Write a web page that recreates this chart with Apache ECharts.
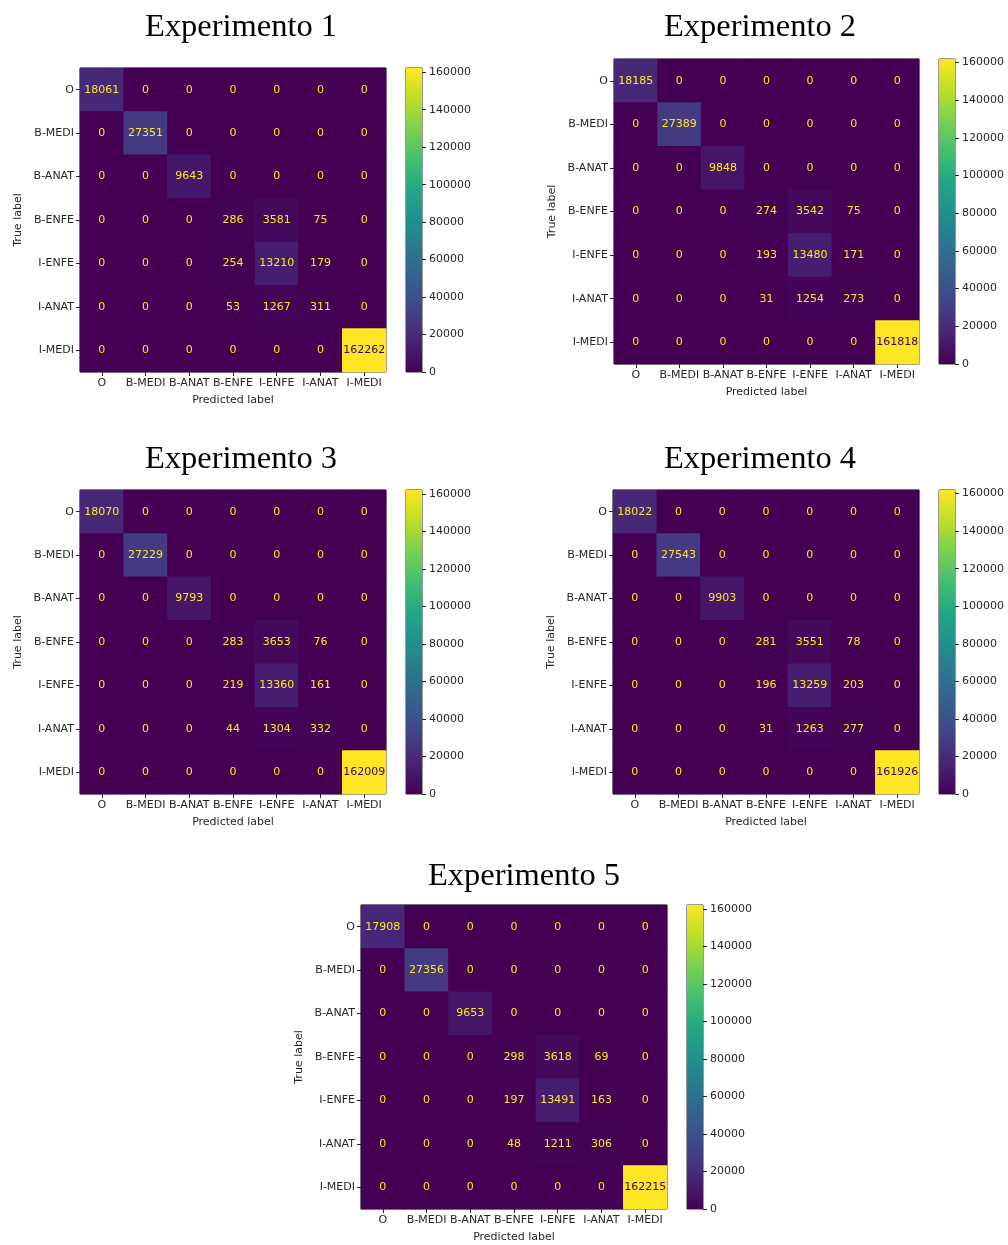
<!DOCTYPE html>
<html>
<head>
<meta charset="utf-8">
<script src="https://cdn.jsdelivr.net/npm/echarts@6/dist/echarts.min.js"></script>
<style>
html,body{margin:0;padding:0;background:#fff;}
#chart{width:1008px;height:1245px;}
</style>
</head>
<body>
<div id="chart"></div>
<script>
// ---- data ----
const labels = ['O', 'B-MEDI', 'B-ANAT', 'B-ENFE', 'I-ENFE', 'I-ANAT', 'I-MEDI'];
const titles = ['Experimento 1', 'Experimento 2', 'Experimento 3', 'Experimento 4', 'Experimento 5'];
const exp1 = [
  [18061, 0, 0, 0, 0, 0, 0],
  [0, 27351, 0, 0, 0, 0, 0],
  [0, 0, 9643, 0, 0, 0, 0],
  [0, 0, 0, 286, 3581, 75, 0],
  [0, 0, 0, 254, 13210, 179, 0],
  [0, 0, 0, 53, 1267, 311, 0],
  [0, 0, 0, 0, 0, 0, 162262]
];
const exp2 = [
  [18185, 0, 0, 0, 0, 0, 0],
  [0, 27389, 0, 0, 0, 0, 0],
  [0, 0, 9848, 0, 0, 0, 0],
  [0, 0, 0, 274, 3542, 75, 0],
  [0, 0, 0, 193, 13480, 171, 0],
  [0, 0, 0, 31, 1254, 273, 0],
  [0, 0, 0, 0, 0, 0, 161818]
];
const exp3 = [
  [18070, 0, 0, 0, 0, 0, 0],
  [0, 27229, 0, 0, 0, 0, 0],
  [0, 0, 9793, 0, 0, 0, 0],
  [0, 0, 0, 283, 3653, 76, 0],
  [0, 0, 0, 219, 13360, 161, 0],
  [0, 0, 0, 44, 1304, 332, 0],
  [0, 0, 0, 0, 0, 0, 162009]
];
const exp4 = [
  [18022, 0, 0, 0, 0, 0, 0],
  [0, 27543, 0, 0, 0, 0, 0],
  [0, 0, 9903, 0, 0, 0, 0],
  [0, 0, 0, 281, 3551, 78, 0],
  [0, 0, 0, 196, 13259, 203, 0],
  [0, 0, 0, 31, 1263, 277, 0],
  [0, 0, 0, 0, 0, 0, 161926]
];
const exp5 = [
  [17908, 0, 0, 0, 0, 0, 0],
  [0, 27356, 0, 0, 0, 0, 0],
  [0, 0, 9653, 0, 0, 0, 0],
  [0, 0, 0, 298, 3618, 69, 0],
  [0, 0, 0, 197, 13491, 163, 0],
  [0, 0, 0, 48, 1211, 306, 0],
  [0, 0, 0, 0, 0, 0, 162215]
];
const colorbarTicks = [0, 20000, 40000, 60000, 80000, 100000, 120000, 140000, 160000];
const viridis = ['#440154', '#482475', '#414487', '#355f8d', '#2a788e', '#21918c',
                 '#22a884', '#44bf70', '#7ad151', '#bddf26', '#fde725'];

// ---- layout (pixels) ----
const matrices = [exp1, exp2, exp3, exp4, exp5];
const layout = [
  {left: 80,  top: 68,  w: 306, h: 304, cb: 406, tx: 236, ty: 6},
  {left: 614, top: 59,  w: 305, h: 305, cb: 939, tx: 755, ty: 6},
  {left: 80,  top: 490, w: 306, h: 304, cb: 406, tx: 236, ty: 438},
  {left: 613, top: 490, w: 306, h: 304, cb: 939, tx: 755, ty: 438},
  {left: 361, top: 905, w: 306, h: 304, cb: 687, tx: 519, ty: 855}
];

const textColor = '#262626';
const tickFont = {fontFamily: 'DejaVu Sans', fontSize: 11, color: textColor};

const option = {
  backgroundColor: '#fff',
  animation: false,
  title: [], grid: [], xAxis: [], yAxis: [], series: [], visualMap: []
};

matrices.forEach((m, i) => {
  const L = layout[i];
  const maxV = Math.max(...m.flat());
  const gi = i * 2, ci = i * 2 + 1;
  option.title.push({
    text: titles[i], left: L.tx, top: L.ty, textAlign: 'center',
    textStyle: {fontFamily: 'Liberation Serif', fontSize: 32.5, fontWeight: 'normal', color: '#000'}
  });
  option.grid.push({left: L.left, top: L.top, width: L.w, height: L.h,
    show: true, borderColor: '#222', borderWidth: 1, backgroundColor: viridis[0]});
  option.grid.push({left: L.cb, top: L.top, width: 16, height: L.h,
    show: true, borderColor: '#333', borderWidth: 1, backgroundColor: 'transparent'});
  option.xAxis.push({
    type: 'category', gridIndex: gi, data: labels, position: 'bottom',
    axisLine: {show: false}, splitLine: {show: false},
    axisTick: {show: true, alignWithLabel: true, length: 4, lineStyle: {color: '#222'}},
    axisLabel: Object.assign({interval: 0, margin: 6}, tickFont),
    name: 'Predicted label', nameLocation: 'middle', nameGap: 23,
    nameTextStyle: tickFont
  });
  option.yAxis.push({
    type: 'category', gridIndex: gi, data: labels, inverse: true,
    axisLine: {show: false}, splitLine: {show: false},
    axisTick: {show: true, alignWithLabel: true, length: 4, lineStyle: {color: '#222'}},
    axisLabel: Object.assign({interval: 0, margin: 6}, tickFont),
    name: 'True label', nameLocation: 'middle', nameGap: 56, nameRotate: 90,
    nameTextStyle: tickFont
  });
  option.xAxis.push({
    type: 'category', gridIndex: ci, data: ['cb'], show: false
  });
  option.yAxis.push({
    type: 'value', gridIndex: ci, min: 0, max: maxV, position: 'right',
    axisLine: {show: false}, splitLine: {show: false},
    axisTick: {show: true, length: 4, lineStyle: {color: '#222'}, customValues: colorbarTicks},
    axisLabel: Object.assign({margin: 7, customValues: colorbarTicks,
      formatter: v => String(v)}, tickFont)
  });
  const data = [];
  m.forEach((row, r) => row.forEach((v, c) => {
    data.push({
      value: [c, r, v],
      label: {color: v < maxV / 2 ? viridis[viridis.length - 1] : viridis[0]}
    });
  }));
  option.series.push({
    type: 'heatmap', xAxisIndex: gi, yAxisIndex: gi, data: data,
    label: {show: true, fontFamily: 'DejaVu Sans', fontSize: 11,
      formatter: p => String(p.value[2])},
    itemStyle: {borderWidth: 0}, emphasis: {disabled: true}, silent: true
  });
  option.visualMap.push({
    type: 'continuous', show: false, min: 0, max: maxV, seriesIndex: option.series.length - 1,
    inRange: {color: viridis}
  });
  option.series.push({
    type: 'bar', xAxisIndex: ci, yAxisIndex: ci, data: [maxV], barWidth: '100%', silent: true,
    itemStyle: {color: {type: 'linear', x: 0, y: 1, x2: 0, y2: 0,
      colorStops: viridis.map((c, k) => ({offset: k / (viridis.length - 1), color: c}))}}
  });
});

const chart = echarts.init(document.getElementById('chart'), null, {renderer: 'canvas'});
chart.setOption(option);
</script>
</body>
</html>
